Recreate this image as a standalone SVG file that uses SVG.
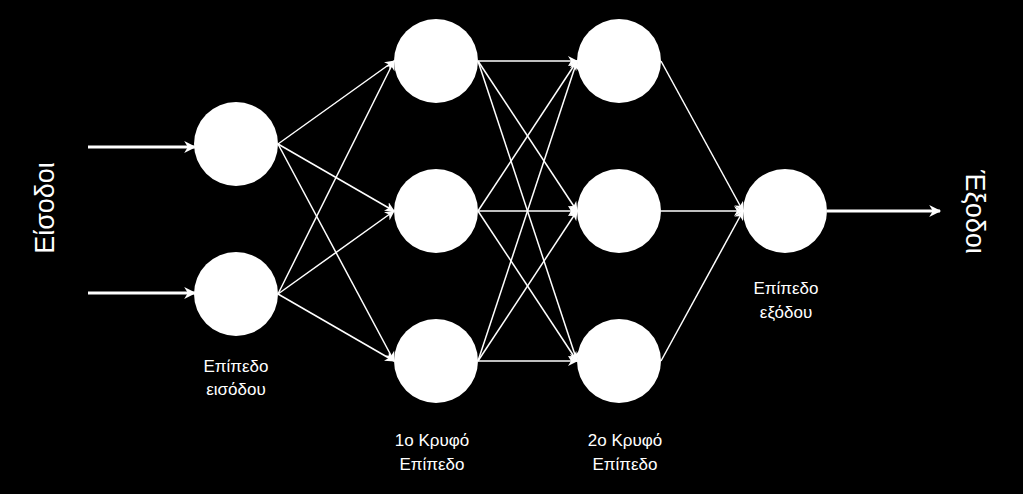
<svg xmlns="http://www.w3.org/2000/svg" width="1023" height="494" viewBox="0 0 1023 494">
<style>
.n{fill:#fff}
.e{stroke:#fff;stroke-width:1.5;fill:none;marker-end:url(#a)}
.t{stroke:#fff;stroke-width:3;fill:none;marker-end:url(#b)}
text{fill:#fff;font-family:"Liberation Sans",Arial,sans-serif;text-anchor:middle}
.s{font-size:17px}
.b{font-size:27px}
</style>
<defs>
<marker id="a" viewBox="0 0 10 10" refX="9" refY="5" markerWidth="10" markerHeight="10" markerUnits="userSpaceOnUse" orient="auto"><path d="M0,0 L10,5 L0,10 L3,5 Z" fill="#fff"/></marker>
<marker id="b" viewBox="0 0 10 10" refX="9" refY="5" markerWidth="16" markerHeight="12" markerUnits="userSpaceOnUse" orient="auto"><path d="M0,0 L10,5 L0,10 L3,5 Z" fill="#fff"/></marker>
</defs>
<rect width="1023" height="494" fill="#000"/>
<g id="connectors">
<line class="t" x1="88" y1="147" x2="195" y2="147"/>
<line class="t" x1="88" y1="293" x2="195" y2="293"/>
<line class="t" x1="827" y1="211" x2="940" y2="211"/>
<line class="e" x1="278" y1="144" x2="394" y2="61"/>
<line class="e" x1="278" y1="144" x2="394" y2="211"/>
<line class="e" x1="278" y1="144" x2="394" y2="361"/>
<line class="e" x1="278" y1="294" x2="394" y2="61"/>
<line class="e" x1="278" y1="294" x2="394" y2="211"/>
<line class="e" x1="278" y1="294" x2="394" y2="361"/>
<line class="e" x1="478" y1="61" x2="577" y2="61"/>
<line class="e" x1="478" y1="61" x2="577" y2="211"/>
<line class="e" x1="478" y1="61" x2="577" y2="361"/>
<line class="e" x1="478" y1="211" x2="577" y2="61"/>
<line class="e" x1="478" y1="211" x2="577" y2="211"/>
<line class="e" x1="478" y1="211" x2="577" y2="361"/>
<line class="e" x1="478" y1="361" x2="577" y2="61"/>
<line class="e" x1="478" y1="361" x2="577" y2="211"/>
<line class="e" x1="478" y1="361" x2="577" y2="361"/>
<line class="e" x1="661" y1="61" x2="743" y2="211"/>
<line class="e" x1="661" y1="211" x2="743" y2="211"/>
<line class="e" x1="661" y1="361" x2="743" y2="211"/>
</g>
<g id="in1"><circle class="n" cx="236" cy="144" r="42"/></g>
<g id="in2"><circle class="n" cx="236" cy="294" r="42"/></g>
<g id="h1a"><circle class="n" cx="436" cy="61" r="42"/></g>
<g id="h1b"><circle class="n" cx="436" cy="211" r="42"/></g>
<g id="h1c"><circle class="n" cx="436" cy="361" r="42"/></g>
<g id="h2a"><circle class="n" cx="619" cy="61" r="42"/></g>
<g id="h2b"><circle class="n" cx="619" cy="211" r="42"/></g>
<g id="h2c"><circle class="n" cx="619" cy="361" r="42"/></g>
<g id="out"><circle class="n" cx="785" cy="211" r="42"/></g>
<g id="labels">
<text class="b" transform="translate(54,208) rotate(-90)">Είσοδοι</text>
<text class="b" transform="translate(966,212) rotate(90)">Έξοδοι</text>
<text class="s" x="236" y="372">Επίπεδο</text>
<text class="s" x="236" y="395">εισόδου</text>
<text class="s" x="432" y="446">1ο Κρυφό</text>
<text class="s" x="432" y="470">Επίπεδο</text>
<text class="s" x="625" y="446">2ο Κρυφό</text>
<text class="s" x="625" y="470">Επίπεδο</text>
<text class="s" x="786" y="294">Επίπεδο</text>
<text class="s" x="786" y="318">εξόδου</text>
</g>
</svg>
